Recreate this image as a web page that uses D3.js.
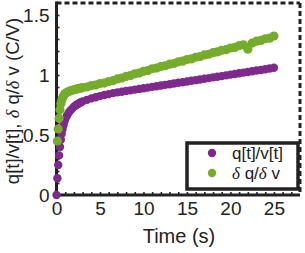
<!DOCTYPE html>
<meta charset="utf-8">
<script src="https://d3js.org/d3.v7.min.js"></script>
<style>
  body { margin: 0; background: #fff; }
  text { font-family: "Liberation Sans", Arial, sans-serif; fill: #222; }
</style>
<svg id="chart" width="305" height="253"></svg>
<script>

    // time samples (s)
    var time = [0, 0.1, 0.2, 0.3, 0.4, 0.5, 0.6, 0.7, 0.8, 0.9, 1.0,
        1.2, 1.4, 1.6, 1.8, 2.0, 2.2, 2.4, 2.6, 2.8, 3.0,
        3.5, 4, 4.5, 5, 5.5, 6, 6.5, 7, 7.5, 8, 8.5, 9, 9.5, 10, 10.5, 11,
        11.5, 12, 12.5, 13, 13.5, 14, 14.5, 15, 15.5, 16, 16.5, 17, 17.5, 18,
        18.5, 19, 19.5, 20, 20.5, 21, 21.5, 22, 22.5, 23, 23.5, 24, 24.5, 25];

    // q[t]/v[t]
    var qv = [0, 0.14, 0.25, 0.33, 0.40, 0.46, 0.51, 0.55, 0.58, 0.61, 0.63,
        0.66, 0.685, 0.705, 0.72, 0.735, 0.746, 0.756, 0.765, 0.773, 0.78,
        0.793, 0.805, 0.815, 0.824, 0.833, 0.841, 0.849, 0.855, 0.861, 0.867, 0.872, 0.878, 0.884, 0.889, 0.895, 0.901,
        0.906, 0.912, 0.918, 0.923, 0.929, 0.935, 0.940, 0.946, 0.952, 0.957, 0.963, 0.969, 0.974, 0.980,
        0.986, 0.991, 0.997, 1.003, 1.008, 1.014, 1.020, 1.025, 1.031, 1.037, 1.042, 1.048, 1.054, 1.06];

    // dq/dv (no value at t = 0)
    var dqdv = [null, 0.45, 0.55, 0.64, 0.71, 0.76, 0.79, 0.81, 0.825, 0.835, 0.845,
        0.855, 0.862, 0.868, 0.872, 0.877, 0.88, 0.884, 0.888, 0.891, 0.895,
        0.90, 0.912, 0.916, 0.929, 0.933, 0.946, 0.953, 0.967, 0.974, 0.988, 0.995, 1.010, 1.016, 1.031, 1.037, 1.052,
        1.058, 1.071, 1.077, 1.090, 1.096, 1.110, 1.115, 1.129, 1.134, 1.148, 1.154, 1.167, 1.173, 1.186,
        1.192, 1.206, 1.211, 1.225, 1.230, 1.244, 1.252, 1.215, 1.266, 1.282, 1.288, 1.302, 1.307, 1.325];

    var seriesNames = ["q[t]/v[t]", "\u03b4 q/\u03b4 v"];
    var seriesColors = ["#7d2a8c", "#76ac2b"];
    var yTicks = [0, 0.5, 1, 1.5];
    var xTicks = [0, 5, 10, 15, 20, 25];

    const svg = d3.select("#chart");

    const x = d3.scaleLinear().domain([0, 28]).range([56.5, 300]);
    const y = d3.scaleLinear().domain([0, 1.6]).range([195, 3]);

    // minor ticks pointing inwards
    svg.append("g")
        .attr("transform", "translate(" + x(0) + ",0)")
        .call(d3.axisLeft(y).tickValues(d3.range(0, 16).map(d => d / 10)).tickSize(-3).tickFormat(""))
        .call(g => g.select(".domain").remove())
        .selectAll("line").attr("stroke", "#222").attr("stroke-width", 1.6);

    svg.append("g")
        .attr("transform", "translate(0," + y(0) + ")")
        .call(d3.axisBottom(x).tickValues(d3.range(0, 28)).tickSize(-3).tickFormat(""))
        .call(g => g.select(".domain").remove())
        .selectAll("line").attr("stroke", "#222").attr("stroke-width", 1.6);

    // top and right frame, dashed
    svg.append("line")
        .attr("x1", x(0)).attr("x2", x(28)).attr("y1", y(1.6)).attr("y2", y(1.6))
        .attr("stroke", "#222").attr("stroke-width", 3).attr("stroke-dasharray", "5,3");
    svg.append("line")
        .attr("x1", x(28)).attr("x2", x(28)).attr("y1", y(1.6)).attr("y2", y(0))
        .attr("stroke", "#222").attr("stroke-width", 3).attr("stroke-dasharray", "5,3");

    // left and bottom axes, solid
    svg.append("line")
        .attr("x1", x(0)).attr("x2", x(0)).attr("y1", y(1.6) - 1.5).attr("y2", y(0) + 1.5)
        .attr("stroke", "#222").attr("stroke-width", 3);
    svg.append("line")
        .attr("x1", x(0) - 1.5).attr("x2", x(28)).attr("y1", y(0)).attr("y2", y(0))
        .attr("stroke", "#222").attr("stroke-width", 3);

    // tick labels
    svg.append("g")
        .attr("transform", "translate(" + (x(0) - 7) + ",0)")
        .call(d3.axisLeft(y).tickValues(yTicks).tickSize(0).tickPadding(0).tickFormat(d => String(d)))
        .call(g => g.select(".domain").remove())
        .selectAll("text")
            .style("font-family", "Liberation Sans, Arial, sans-serif")
            .style("font-size", "19px")
            .attr("fill", "#222");

    svg.append("g")
        .attr("transform", "translate(0," + (y(0) + 6) + ")")
        .call(d3.axisBottom(x).tickValues(xTicks).tickSize(0).tickPadding(0).tickFormat(d => String(d)))
        .call(g => g.select(".domain").remove())
        .selectAll("text")
            .style("font-family", "Liberation Sans, Arial, sans-serif")
            .style("font-size", "19px")
            .attr("fill", "#222");

    // data
    const pts0 = time.map((t, i) => ({t: t, v: qv[i]}));
    const pts1 = time.map((t, i) => ({t: t, v: dqdv[i]})).filter(d => d.v !== null);

    svg.append("g").selectAll("circle")
        .data(pts0).enter().append("circle")
            .attr("cx", d => x(d.t))
            .attr("cy", d => y(d.v))
            .attr("r", 4.2)
            .attr("fill", seriesColors[0]);

    svg.append("g").selectAll("circle")
        .data(pts1).enter().append("circle")
            .attr("cx", d => x(d.t))
            .attr("cy", d => y(d.v))
            .attr("r", 4.6)
            .attr("fill", seriesColors[1]);

    // axis titles
    svg.append("text")
        .attr("x", 179).attr("y", 243)
        .attr("text-anchor", "middle")
        .style("font-size", "20px")
        .text("Time (s)");

    const yl = svg.append("text")
        .attr("transform", "translate(19,101) rotate(-90)")
        .attr("text-anchor", "middle")
        .style("font-size", "18.5px");
    yl.append("tspan").text("q[t]/v[t], ");
    yl.append("tspan").style("font-family", "Liberation Serif, serif").style("font-style", "italic").text("\u03b4");
    yl.append("tspan").text(" q/");
    yl.append("tspan").style("font-family", "Liberation Serif, serif").style("font-style", "italic").text("\u03b4");
    yl.append("tspan").text(" v (C/V)");

    // legend
    svg.append("rect")
        .attr("x", 187).attr("y", 143).attr("width", 111).attr("height", 46)
        .attr("fill", "#fff").attr("stroke", "#222").attr("stroke-width", 3.5);

    const leg = svg.append("g").selectAll("g")
        .data(seriesNames).enter().append("g")
            .attr("transform", (d, i) => "translate(0," + (153 + i * 20) + ")");
    leg.append("circle")
        .attr("cx", 212).attr("cy", 0).attr("r", 4.2)
        .attr("fill", (d, i) => seriesColors[i]);
    leg.append("text")
        .attr("x", 232).attr("y", 6)
        .style("font-size", "17px")
        .each(function(d, i) {
            const t = d3.select(this);
            if (i === 0) { t.text(d); return; }
            t.append("tspan").style("font-family", "Liberation Serif, serif").style("font-style", "italic").text("\u03b4");
            t.append("tspan").text(" q/");
            t.append("tspan").style("font-family", "Liberation Serif, serif").style("font-style", "italic").text("\u03b4");
            t.append("tspan").text(" v");
        });

</script>
